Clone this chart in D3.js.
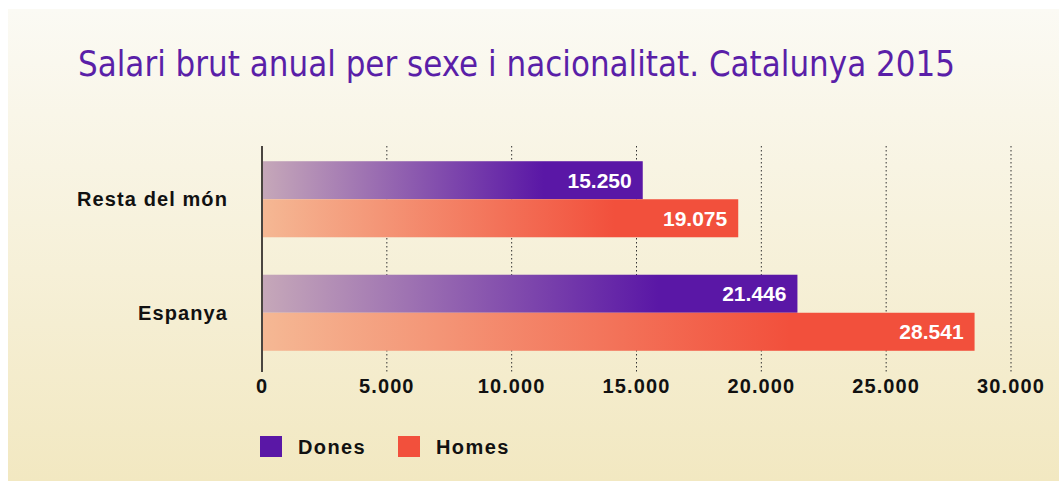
<!DOCTYPE html>
<html>
<head>
<meta charset="utf-8">
<script src="https://cdn.jsdelivr.net/npm/d3@7"></script>
<style>
  body { margin: 0; background: #fff; }
  svg { display: block; }
</style>
</head>
<body>
<svg id="chart" width="1059" height="481"></svg>
<script>
var categories = ["Resta del món", "Espanya"];
var series = ["Dones", "Homes"];
var dones = [15250, 21446];
var homes = [19075, 28541];
var xTicks = [0, 5000, 10000, 15000, 20000, 25000, 30000];

var svg = d3.select("#chart");
var defs = svg.append("defs");

var bg = defs.append("linearGradient").attr("id", "bgGrad")
    .attr("x1", 0).attr("y1", 0).attr("x2", 0).attr("y2", 1);
bg.append("stop").attr("offset", "0%").attr("stop-color", "#fbfaf4");
bg.append("stop").attr("offset", "100%").attr("stop-color", "#f2e8c1");

var colors = {Dones: ["#c6a8b9", "#5a17a6"], Homes: ["#f5b894", "#f2503c"]};
series.forEach(function(s){
    var g = defs.append("linearGradient").attr("id", "grad" + s)
        .attr("x1", 0).attr("y1", 0).attr("x2", 1).attr("y2", 0);
    g.append("stop").attr("offset", "0%").attr("stop-color", colors[s][0]);
    g.append("stop").attr("offset", "74%").attr("stop-color", colors[s][1]);
    g.append("stop").attr("offset", "100%").attr("stop-color", colors[s][1]);
});

svg.append("rect").attr("x", 8).attr("y", 9).attr("width", 1051).attr("height", 472)
    .attr("fill", "url(#bgGrad)");

svg.append("text")
    .attr("x", 78).attr("y", 76)
    .attr("font-family", "'Liberation Sans Narrow', 'DejaVu Sans Condensed', sans-serif")
    .attr("font-size", 35)
    .attr("fill", "#5a1fa8")
    .attr("textLength", 877)
    .attr("lengthAdjust", "spacingAndGlyphs")
    .text("Salari brut anual per sexe i nacionalitat. Catalunya 2015");

var x = d3.scaleLinear().domain([0, 30000]).range([262, 1011]);
var y = d3.scaleBand().domain(categories).range([142.5, 369.5])
    .paddingInner(0.33).paddingOuter(0.165);
var ySub = d3.scaleBand().domain(series).range([0, y.bandwidth()]);

// dotted gridlines
svg.append("g").selectAll("line")
    .data(xTicks.slice(1))
    .join("line")
    .attr("x1", d => x(d)).attr("x2", d => x(d))
    .attr("y1", 146).attr("y2", 372)
    .attr("stroke", "#333").attr("stroke-width", 1)
    .attr("stroke-dasharray", "1.5,2.5");

var rows = categories.map(function(c, i){
    return {cat: c, values: [{s: "Dones", v: dones[i]}, {s: "Homes", v: homes[i]}]};
});

var groups = svg.append("g").selectAll("g")
    .data(rows).join("g")
    .attr("transform", d => "translate(0," + y(d.cat) + ")");

groups.selectAll("rect")
    .data(d => d.values).join("rect")
    .attr("x", x(0))
    .attr("y", d => ySub(d.s))
    .attr("width", d => x(d.v) - x(0))
    .attr("height", ySub.bandwidth())
    .attr("fill", d => "url(#grad" + d.s + ")");

var fmt = d3.formatLocale({decimal: ",", thousands: ".", grouping: [3], currency: ["", "€"]}).format(",");

groups.selectAll("text.val")
    .data(d => d.values).join("text")
    .attr("class", "val")
    .attr("x", d => x(d.v) - 11)
    .attr("y", d => ySub(d.s) + ySub.bandwidth() / 2 + 7.5)
    .attr("text-anchor", "end")
    .attr("font-family", "'Liberation Sans', Arial, sans-serif")
    .attr("font-weight", "bold")
    .attr("font-size", 21)
    .attr("fill", "#fff")
    .text(d => fmt(d.v));

// category labels
svg.append("g").selectAll("text")
    .data(categories).join("text")
    .attr("x", 228)
    .attr("y", d => y(d) + y.bandwidth() / 2 + 7)
    .attr("text-anchor", "end")
    .attr("font-family", "'Liberation Sans', Arial, sans-serif")
    .attr("font-weight", "bold")
    .attr("font-size", 20)
    .attr("letter-spacing", 1.1)
    .attr("fill", "#111")
    .text(d => d);

// axis line at zero
svg.append("line")
    .attr("x1", x(0)).attr("x2", x(0))
    .attr("y1", 146).attr("y2", 372)
    .attr("stroke", "#4a4540").attr("stroke-width", 2);

// tick labels
svg.append("g").selectAll("text")
    .data(xTicks).join("text")
    .attr("x", d => x(d))
    .attr("y", 393)
    .attr("text-anchor", "middle")
    .attr("font-family", "'Liberation Sans', Arial, sans-serif")
    .attr("font-weight", "bold")
    .attr("font-size", 20)
    .attr("letter-spacing", 1.1)
    .attr("fill", "#111")
    .text(d => fmt(d));

// legend
var legend = svg.append("g").selectAll("g")
    .data(series).join("g")
    .attr("transform", (d, i) => "translate(" + (260 + i * 138) + ",436)");
legend.append("rect")
    .attr("width", 22).attr("height", 21)
    .attr("fill", d => colors[d][1]);
legend.append("text")
    .attr("x", 38).attr("y", 18)
    .attr("font-family", "'Liberation Sans', Arial, sans-serif")
    .attr("font-weight", "bold")
    .attr("font-size", 20)
    .attr("letter-spacing", 1.4)
    .attr("fill", "#111")
    .text(d => d);
</script>
</body>
</html>
